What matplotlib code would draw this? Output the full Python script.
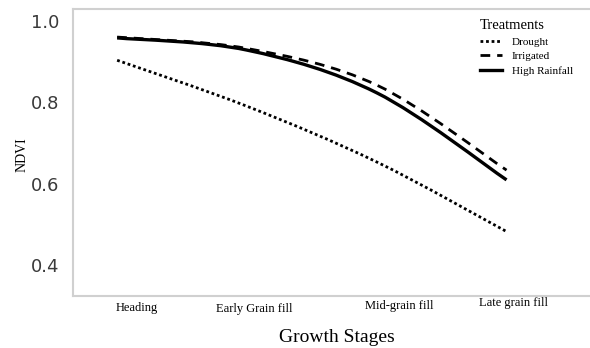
import matplotlib
matplotlib.use("Agg")
import matplotlib.pyplot as plt
import matplotlib.transforms as mtransforms
from matplotlib.path import Path
from matplotlib.patches import PathPatch
from matplotlib.lines import Line2D

stages = ["Heading", "Early Grain fill", "Mid-grain fill", "Late grain fill"]
drought = [0.903, 0.790, 0.653, 0.482]
irrigated = [0.960, 0.932, 0.842, 0.633]
high_rainfall = [0.958, 0.928, 0.823, 0.609]
yticks = [0.4, 0.6, 0.8, 1.0]

# layout-only offsets for tick label placement (in x units) and vertical nudges (points)
label_dx = [0.15, 1.06, 2.17, 3.05]
label_dy = [1, 0, 2, 4]

W, H = 590, 348
fig = plt.figure(figsize=(W / 100, H / 100), dpi=100)
ax = fig.add_axes([73 / W, (H - 296) / H, (600 - 73) / W, (296 - 9) / H])

serif = ["Liberation Serif", "DejaVu Serif"]


def smooth_path(xs, ys):
    pts = list(zip(xs, ys))
    n = len(pts)
    verts = [pts[0]]
    codes = [Path.MOVETO]
    for i in range(n - 1):
        p0 = pts[i - 1] if i > 0 else pts[i]
        p1 = pts[i]
        p2 = pts[i + 1]
        p3 = pts[i + 2] if i + 2 < n else pts[i + 1]
        c1 = (p1[0] + (p2[0] - p0[0]) / 6, p1[1] + (p2[1] - p0[1]) / 6)
        c2 = (p2[0] - (p3[0] - p1[0]) / 6, p2[1] - (p3[1] - p1[1]) / 6)
        verts += [c1, c2, p2]
        codes += [Path.CURVE4] * 3
    return Path(verts, codes)


xs = list(range(len(stages)))
series = [
    ("Drought", drought, dict(linestyle=(0, (1.0, 1.0)), linewidth=2.0)),
    ("Irrigated", irrigated, dict(linestyle=(0, (3.5, 2.5)), linewidth=2.0)),
    ("High Rainfall", high_rainfall, dict(linestyle="-", linewidth=2.4)),
]
handles = []
for name, vals, st in series:
    patch = PathPatch(smooth_path(xs, vals), facecolor="none", edgecolor="black",
                      capstyle="butt", **st)
    ax.add_patch(patch)
    handles.append(Line2D([], [], color="black", label=name, **st))

ax.set_xlim(-0.34, 3.72)
ax.set_ylim(0.3236, 1.029)
ax.set_yticks(yticks)
ax.set_yticklabels([f"{v:.1f}" for v in yticks], fontsize=13, color="#3a3a3a",
                   family=["DejaVu Sans"])
ax.tick_params(axis="y", length=0, pad=10)

ax.set_xticks(label_dx)
ax.set_xticklabels(stages, fontsize=9, family=serif)
ax.tick_params(axis="x", length=0, pad=5)
for lab, dy in zip(ax.get_xticklabels(), label_dy):
    lab.set_transform(lab.get_transform() + mtransforms.ScaledTranslation(0, dy / 72, fig.dpi_scale_trans))

for s in ax.spines.values():
    s.set_color("#d0d0d0")
    s.set_linewidth(1.5)
ax.spines["right"].set_visible(False)

fig.text(337 / W, 1 - 338 / H, "Growth Stages", fontsize=14, family=serif,
         ha="center", va="center")
fig.text(22 / W, 1 - 155 / H, "NDVI", fontsize=10, family=serif, rotation=90,
         ha="center", va="center")

leg = ax.legend(handles=handles, title="Treatments", loc="upper left",
                bbox_to_anchor=(472 / W, 1 - 11 / H), bbox_transform=fig.transFigure,
                frameon=False, title_fontsize=10.5, handlelength=2.0,
                handletextpad=0.9, labelspacing=0.45, borderpad=0.2,
                alignment="left", prop={"family": serif, "size": 8})
leg.get_title().set_family(serif)

fig.savefig("out.png", dpi=100)
